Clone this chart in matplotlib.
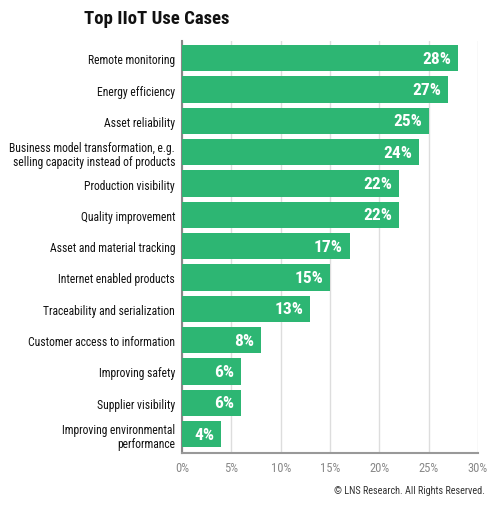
import matplotlib.pyplot as plt
from matplotlib.ticker import PercentFormatter

categories = [
    "Remote monitoring",
    "Energy efficiency",
    "Asset reliability",
    "Business model transformation, e.g.\nselling capacity instead of products",
    "Production visibility",
    "Quality improvement",
    "Asset and material tracking",
    "Internet enabled products",
    "Traceability and serialization",
    "Customer access to information",
    "Improving safety",
    "Supplier visibility",
    "Improving environmental\nperformance",
]
values = [28, 27, 25, 24, 22, 22, 17, 15, 13, 8, 6, 6, 4]
ticks = [0, 5, 10, 15, 20, 25, 30]

plt.rcParams['font.family'] = ['Roboto Condensed', 'DejaVu Sans']

green = "#2db673"

fig = plt.figure(figsize=(5, 5.06), dpi=100)
ax = fig.add_axes([0.364, 0.103, 0.592, 0.814])

y = list(range(len(categories)))
ax.barh(y, values, height=0.84, color=green, zorder=3)

for yi, v in zip(y, values):
    ax.text(v - 0.7, yi, f"{v}%", ha="right", va="center", color="white",
            fontsize=12.5, fontweight="bold", zorder=4)

ax.set_yticks(y)
ax.set_yticklabels(categories, fontsize=8.4, color="#111111", linespacing=1.1)
ax.set_ylim(len(categories) - 0.4, -0.55)

ax.set_xlim(0, 30)
ax.set_xticks(ticks)
ax.xaxis.set_major_formatter(PercentFormatter(decimals=0))
ax.tick_params(axis="x", colors="#888888", labelsize=9, length=0, pad=6)
ax.tick_params(axis="y", length=0, pad=5)
ax.grid(axis="x", color="#dddddd", linewidth=1, zorder=0)

for s in ["top", "right"]:
    ax.spines[s].set_visible(False)
ax.spines["left"].set_color("#888888")
ax.spines["left"].set_linewidth(1.5)
ax.spines["bottom"].set_color("#999999")
ax.spines["bottom"].set_linewidth(1.5)

fig.text(0.314, 0.963, "Top IIoT Use Cases", ha="center", va="center",
         fontsize=13.5, fontweight="bold", color="#111111")
fig.text(0.97, 0.03, "\u00a9 LNS Research. All Rights Reserved.", ha="right",
         va="center", fontsize=7.3, color="#333333")

fig.savefig("out.png", dpi=100)
